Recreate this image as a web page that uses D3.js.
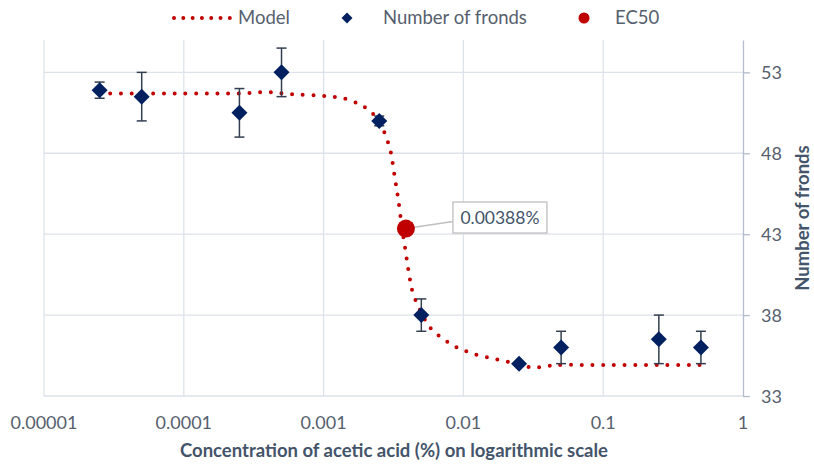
<!DOCTYPE html>
<meta charset="utf-8">
<style>
body { margin: 0; background: #fff; }
text { font-family: Lato, "Open Sans", sans-serif; }
.grid line { stroke: #dde2ea; stroke-width: 1.3; }
.axisRight path, .axisRight line { stroke: #b3bdcc; stroke-width: 1.3; }
.axisRight text, .xlabels text { fill: #56606e; font-size: 18px; }
.titleAxis { fill: #44546a; font-size: 18.5px; font-weight: 700; }
.legend text { fill: #56606e; font-size: 18.5px; }
</style>
<body>
<script src="https://d3js.org/d3.v7.min.js"></script>
<script>

// measured points: concentration (%) and number of fronds
var conc   = [0.000025, 0.00005, 0.00025, 0.0005, 0.0025, 0.005, 0.025, 0.05, 0.25, 0.5];
var fronds = [51.9, 51.5, 50.5, 53, 50, 38, 35, 36, 36.5, 36];
var errors = [0.5, 1.5, 1.5, 1.5, 0.3, 1, 0, 1, 1.5, 1];

// fitted model curve
var modelConc  = [0.000025, 0.0001, 0.00025, 0.0004, 0.0006, 0.001, 0.0013, 0.0016, 0.0018, 0.002,
                  0.0022, 0.0025, 0.0028, 0.003, 0.00307, 0.00324, 0.00342, 0.00364, 0.00387, 0.00408,
                  0.00438, 0.00547, 0.00611, 0.0070, 0.0081, 0.0094, 0.011, 0.0129, 0.0157, 0.0185,
                  0.0218, 0.025, 0.0307, 0.0363, 0.044, 0.052, 0.1, 0.25, 0.5];
var modelValue = [51.7, 51.7, 51.7, 51.78, 51.65, 51.55, 51.44, 51.24, 51.02, 50.81,
                  50.53, 49.98, 49.01, 48.19, 47.75, 46.44, 45.14, 43.37, 41.87, 40.57,
                  39.3, 37.52, 37.01, 36.6, 36.23, 35.92, 35.7, 35.51, 35.35, 35.2,
                  35.08, 34.96, 34.76, 34.79, 34.9, 34.92, 34.92, 34.92, 34.92];

// EC50 point
var ec50 = 0.00388;
var ec50Value = 43.35;
var ec50Label = "0.00388%";

var xTicks = [0.00001, 0.0001, 0.001, 0.01, 0.1, 1];
var xTickLabels = ["0.00001", "0.0001", "0.001", "0.01", "0.1", "1"];
var yTicks = [33, 38, 43, 48, 53];

var W = 814, H = 464;
var margin = {top: 40, right: 71, bottom: 68, left: 44};

var x = d3.scaleLog().domain([0.00001, 1]).range([margin.left, W - margin.right]);
var y = d3.scaleLinear().domain([33, 55]).range([H - margin.bottom, margin.top]);

var svg = d3.select("body").append("svg")
    .attr("width", W)
    .attr("height", H);

// gridlines
var grid = svg.append("g").attr("class", "grid");
grid.selectAll(".hg").data(yTicks).enter().append("line")
    .attr("x1", x.range()[0]).attr("x2", x.range()[1])
    .attr("y1", function(d) { return y(d); }).attr("y2", function(d) { return y(d); });
grid.selectAll(".vg").data(xTicks.slice(0, -1)).enter().append("line")
    .attr("x1", function(d) { return x(d); }).attr("x2", function(d) { return x(d); })
    .attr("y1", y.range()[1]).attr("y2", y.range()[0]);

// right y axis
var yAxis = svg.append("g")
    .attr("class", "axisRight")
    .attr("transform", "translate(" + x.range()[1] + ",0)")
    .call(d3.axisRight(y).tickValues(yTicks).tickSize(7).tickSizeOuter(0).tickPadding(11));
yAxis.selectAll("text").attr("dy", "0.35em");

// x labels (no axis line)
svg.append("g").attr("class", "xlabels")
  .selectAll("text").data(xTicks).enter().append("text")
    .attr("x", function(d) { return x(d); })
    .attr("y", 429)
    .attr("text-anchor", "middle")
    .text(function(d, i) { return xTickLabels[i]; });

// model line, round dots
var line = d3.line()
    .x(function(d) { return x(d[0]); })
    .y(function(d) { return y(d[1]); })
    .curve(d3.curveCatmullRom.alpha(0.5));
svg.append("path")
    .datum(modelConc.map(function(c, i) { return [c, modelValue[i]]; }))
    .attr("d", line)
    .attr("fill", "none")
    .attr("stroke", "#c00000")
    .attr("stroke-width", 4)
    .attr("stroke-linecap", "round")
    .attr("stroke-dasharray", "0 10.7");

// error bars
var eb = svg.append("g").attr("stroke", "#333f50").attr("stroke-width", 1.5);
conc.forEach(function(c, i) {
  if (!errors[i]) return;
  var cx = x(c), top = y(fronds[i] + errors[i]), bot = y(fronds[i] - errors[i]);
  eb.append("line").attr("x1", cx).attr("x2", cx).attr("y1", top).attr("y2", bot);
  eb.append("line").attr("x1", cx - 5).attr("x2", cx + 5).attr("y1", top).attr("y2", top);
  eb.append("line").attr("x1", cx - 5).attr("x2", cx + 5).attr("y1", bot).attr("y2", bot);
});

// diamonds
function diamond(r) { return "M0," + (-r) + "L" + r + ",0L0," + r + "L" + (-r) + ",0Z"; }
svg.append("g").selectAll("path").data(conc).enter().append("path")
    .attr("d", diamond(8))
    .attr("fill", "#002060")
    .attr("transform", function(d, i) { return "translate(" + x(d) + "," + y(fronds[i]) + ")"; });

// EC50 marker and callout
var ex = x(ec50), ey = y(ec50Value);
svg.append("line")
    .attr("x1", ex).attr("y1", ey).attr("x2", ex + 47).attr("y2", ey - 7)
    .attr("stroke", "#bfbfbf").attr("stroke-width", 1.5);
svg.append("circle")
    .attr("cx", ex).attr("cy", ey).attr("r", 9)
    .attr("fill", "#c00000");
svg.append("rect")
    .attr("x", ex + 47).attr("y", ey - 26.5)
    .attr("width", 94).attr("height", 31)
    .attr("fill", "#fff").attr("stroke", "#bfbfbf").attr("stroke-width", 1.3);
svg.append("text")
    .attr("x", ex + 94).attr("y", ey - 4.5)
    .attr("text-anchor", "middle")
    .attr("fill", "#44546a")
    .style("font-size", "17.5px")
    .text(ec50Label);

// legend
var lg = svg.append("g").attr("class", "legend");
lg.append("line")
    .attr("x1", 174).attr("x2", 230).attr("y1", 18).attr("y2", 18)
    .attr("stroke", "#c00000").attr("stroke-width", 4)
    .attr("stroke-linecap", "round").attr("stroke-dasharray", "0 9.3");
lg.append("text").attr("x", 238).attr("y", 24).text("Model");
lg.append("path").attr("d", diamond(5.5)).attr("fill", "#002060")
    .attr("transform", "translate(347,18)");
lg.append("text").attr("x", 383).attr("y", 24).text("Number of fronds");
lg.append("circle").attr("cx", 584).attr("cy", 18).attr("r", 5.5).attr("fill", "#c00000");
lg.append("text").attr("x", 615).attr("y", 24).text("EC50");

// axis titles
svg.append("text")
    .attr("class", "titleAxis")
    .attr("x", 394)
    .attr("y", 457)
    .attr("text-anchor", "middle")
    .text("Concentration of acetic acid (%) on logarithmic scale");
svg.append("text")
    .attr("class", "titleAxis")
    .attr("transform", "translate(809," + ((y.range()[0] + y.range()[1]) / 2) + ") rotate(-90)")
    .attr("text-anchor", "middle")
    .text("Number of fronds");

</script>
</body>
